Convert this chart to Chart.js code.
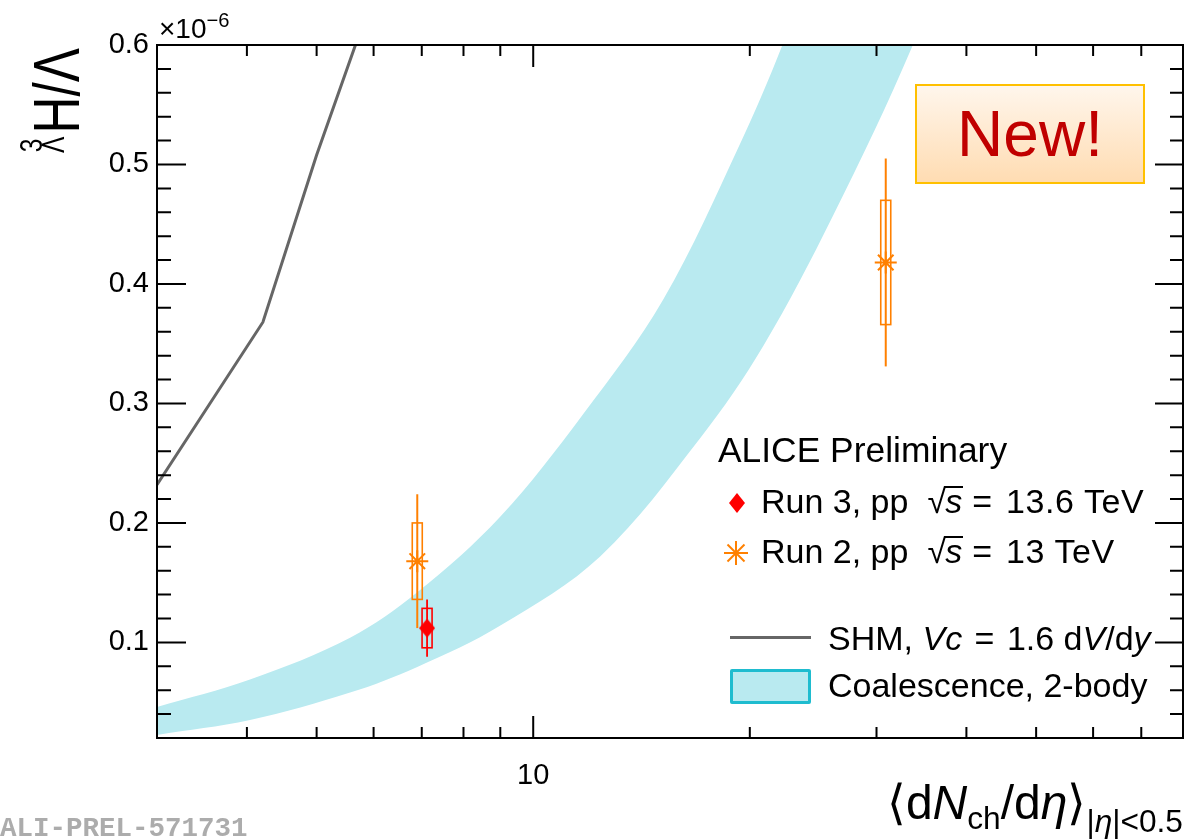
<!DOCTYPE html>
<html>
<head>
<meta charset="utf-8">
<title>Hypertriton to Lambda ratio vs multiplicity</title>
<script src="https://cdn.jsdelivr.net/npm/chart.js@4.4.1/dist/chart.umd.min.js"></script>
<style>
  html, body { margin: 0; padding: 0; background: #fff; }
  #wrap { position: relative; width: 1189px; height: 840px; overflow: hidden;
          font-family: "Liberation Sans", Arial, Helvetica, sans-serif; color: #000; }
  #c { position: absolute; left: 0; top: 0; }
  .abs { position: absolute; white-space: nowrap; line-height: 1; }
  .it { font-style: italic; }
  .lg { font-size: 34px; }
  .sqrt { display: inline-block; margin-left: 19px; margin-right: 9px; }
  .sqrt .arg { display: inline-block; font-style: italic; border-top: 2px solid #000; padding: 0 1px; line-height: 0.82; margin-left: -2px; }
  .eq { display: inline-block; margin-right: 14px; }
  .num { letter-spacing: 0.6px; }
  .sub { position: relative; font-size: 0.66em; top: 0.32em; }
  #newbox { position: absolute; left: 915px; top: 84px; width: 230px; height: 100px; box-sizing: border-box;
            border: 2px solid #ffc000; background: linear-gradient(#fff6ec, #ffdcb2);
            display: flex; align-items: center; justify-content: center;
            color: #c00000; font-size: 64px; line-height: 1; }
  #prel { position: absolute; left: 0; top: 815px; font-family: "Liberation Mono", "DejaVu Sans Mono", monospace;
          font-weight: bold; font-size: 27.5px; color: #acacac; line-height: 1; }
</style>
</head>
<body>
<div id="wrap">
  <canvas id="c" width="1189" height="840"></canvas>

  <!-- exponent of the y axis -->
  <div class="abs" style="left:159px; top:15px; font-size:28px;">×10<span style="position:relative; top:-0.55em; font-size:0.72em;">−6</span></div>

  <!-- y axis title -->
  <div class="abs" id="ytitle" style="left:25px; top:153px; font-size:64px; transform-origin:0 0; transform:rotate(-90deg) scaleX(0.8);">
    <span style="display:inline-block; position:relative; width:0.38em; height:1em; vertical-align:top;">
      <span style="position:absolute; left:0.03em; top:-0.27em; font-size:0.48em;">3</span>
      <span style="position:absolute; left:0; top:0.44em; font-size:0.48em;">Λ</span>
    </span>H/Λ
  </div>

  <!-- x axis title -->
  <div class="abs" style="right:6px; top:779px; font-size:48px;">⟨d<span class="it">N</span><span class="sub">ch</span>/d<span class="it">η</span>⟩<span class="sub" style="top:0.42em;">|<span class="it">η</span>|&lt;0.5</span></div>

  <!-- legend -->
  <div class="abs" style="left:718px; top:433px; font-size:35.4px;">ALICE Preliminary</div>
  <svg class="abs" style="left:728px; top:492px;" width="18" height="22"><polygon points="9,1 17,11 9,21 1,11" fill="#ff0000"/></svg>
  <div class="abs lg" style="left:761px; top:484px;">Run 3, pp<span class="sqrt"><span>√</span><span class="arg">s</span></span><span class="eq">=</span><span class="num">13.6 TeV</span></div>
  <svg class="abs" style="left:724px; top:541px;" width="24" height="24"><g stroke="#ff8000" stroke-width="2"><line x1="0" y1="12" x2="24" y2="12"/><line x1="12" y1="0" x2="12" y2="24"/><line x1="3.5" y1="3.5" x2="20.5" y2="20.5"/><line x1="20.5" y1="3.5" x2="3.5" y2="20.5"/></g></svg>
  <div class="abs lg" style="left:761px; top:534px;">Run 2, pp<span class="sqrt"><span>√</span><span class="arg">s</span></span><span class="eq">=</span><span class="num">13 TeV</span></div>
  <div class="abs" style="left:730px; top:636px; width:81px; height:3px; background:#666666;"></div>
  <div class="abs lg" style="left:828px; top:621px;">SHM, <span class="it">Vc</span> <span style="margin:0 3px;">=</span> 1.6 d<span class="it">V</span>/d<span class="it">y</span></div>
  <div class="abs" style="left:730px; top:669px; width:81px; height:35px; box-sizing:border-box; border:3px solid #1fbccf; border-radius:2px; background:#b9eaf0;"></div>
  <div class="abs lg" style="left:828px; top:668px;">Coalescence, 2-body</div>

  <div id="newbox">New!</div>
  <div id="prel">ALI-PREL-571731</div>
</div>

<script>
// Axis ranges: x is <dNch/deta>, y is the ratio in units of 1e-6
const xRange = [3, 80];
const yRange = [0.02, 0.6];
const xTickValues = [3, 4, 5, 6, 7, 8, 9, 10, 20, 30, 40, 50, 60, 70, 80];
const xTickLabels = { 10: '10' };
const yTickLabels = ['0.1', '0.2', '0.3', '0.4', '0.5', '0.6'];

// Run 3, pp sqrt(s) = 13.6 TeV
const run3X = [7.12];
const run3Y = [0.112];
const run3Stat = [0.024];
const run3Sys = [0.0165];

// Run 2, pp sqrt(s) = 13 TeV
const run2X = [6.9, 30.9];
const run2Y = [0.168, 0.418];
const run2Stat = [0.056, 0.087];
const run2Sys = [0.032, 0.052];

// SHM, Vc = 1.6 dV/dy
const shmX = [3.0, 4.21, 5.0, 6.0];
const shmY = [0.232, 0.368, 0.508, 0.643];

// Coalescence, 2-body: upper and lower edges of the band
const coalUpperX = [3.0, 4.04, 5.565, 6.90, 8.99, 11.73, 15.16, 19.41, 22.2, 25.07];
const coalUpperY = [0.046, 0.069, 0.104, 0.142, 0.205, 0.291, 0.387, 0.518, 0.600, 0.688];
const coalLowerX = [3.0, 4.04, 5.565, 6.90, 8.99, 12.39, 17.07, 20.88, 26.1, 33.7, 38.0];
const coalLowerY = [0.0226, 0.035, 0.058, 0.0795, 0.114, 0.172, 0.271, 0.348, 0.457, 0.600, 0.688];

const ORANGE = '#ff8000';
const RED = '#ff0000';
const BAND = '#b9eaf0';

const toPoints = (xs, ys) => xs.map((x, i) => ({ x, y: ys[i] }));

// Closed outline of the band: along the upper edge, back along the lower edge
const bandOutline = toPoints(coalUpperX, coalUpperY)
  .concat(toPoints(coalLowerX, coalLowerY).reverse());

// Filled diamond marker (slightly taller than wide)
function diamondMarker(w, h, color) {
  const cv = document.createElement('canvas');
  cv.width = w; cv.height = h;
  const g = cv.getContext('2d');
  g.fillStyle = color;
  g.beginPath();
  g.moveTo(w / 2, 0); g.lineTo(w, h / 2); g.lineTo(w / 2, h); g.lineTo(0, h / 2);
  g.closePath(); g.fill();
  return cv;
}

// Statistical error bars (lines) and systematic boxes, drawn under each marker
const errorBars = {
  id: 'errorBars',
  beforeDatasetDraw(chart, args) {
    const ds = chart.data.datasets[args.index];
    if (!ds.errors) return;
    const { ctx } = chart;
    const xs = chart.scales.x, ys = chart.scales.y;
    const a = chart.chartArea;
    ctx.save();
    ctx.beginPath();
    ctx.rect(a.left, a.top, a.width, a.height);
    ctx.clip();
    ctx.strokeStyle = ds.borderColor;
    ds.data.forEach((p, i) => {
      const px = xs.getPixelForValue(p.x);
      const st = ds.errors.stat[i], sy = ds.errors.sys[i];
      ctx.lineWidth = ds.errors.lineWidth;
      ctx.beginPath();
      ctx.moveTo(px, ys.getPixelForValue(p.y + st));
      ctx.lineTo(px, ys.getPixelForValue(p.y - st));
      ctx.stroke();
      const top = ys.getPixelForValue(p.y + sy);
      const bot = ys.getPixelForValue(p.y - sy);
      ctx.lineWidth = 1.6;
      ctx.strokeRect(px - 5, top, 10, bot - top);
    });
    ctx.restore();
  }
};

// Frame with inward ticks on all four sides
const frameTicks = {
  id: 'frameTicks',
  afterDatasetsDraw(chart) {
    const { ctx, chartArea: a } = chart;
    const xs = chart.scales.x, ys = chart.scales.y;
    ctx.save();
    ctx.strokeStyle = '#000';
    ctx.lineWidth = 2;
    ctx.beginPath();
    xs.ticks.forEach(t => {
      const px = xs.getPixelForValue(t.value);
      if (px <= a.left + 1 || px >= a.right - 1) return;
      const major = xTickLabels[t.value] !== undefined;
      ctx.moveTo(px, a.bottom); ctx.lineTo(px, a.bottom - (major ? 22 : 11));
      ctx.moveTo(px, a.top); ctx.lineTo(px, a.top + (major ? 22 : 11));
    });
    ys.ticks.forEach(t => {
      const py = ys.getPixelForValue(t.value);
      if (py <= a.top + 1 || py >= a.bottom - 1) return;
      const major = t.label !== '';
      ctx.moveTo(a.left, py); ctx.lineTo(a.left + (major ? 29 : 14), py);
      ctx.moveTo(a.right, py); ctx.lineTo(a.right - (major ? 28 : 13), py);
    });
    ctx.stroke();
    ctx.strokeRect(a.left, a.top, a.width, a.height);
    ctx.restore();
  }
};

const tickFont = { family: '"Liberation Sans", Arial, Helvetica, sans-serif', size: 29 };

new Chart(document.getElementById('c'), {
  type: 'scatter',
  data: {
    datasets: [
      {
        label: 'Coalescence, 2-body',
        type: 'line',
        data: bandOutline,
        fill: 'shape',
        backgroundColor: BAND,
        borderColor: 'rgba(0,0,0,0)',
        borderWidth: 0,
        pointRadius: 0,
        tension: 0.35,
        order: 4
      },
      {
        label: 'SHM, Vc = 1.6 dV/dy',
        type: 'line',
        data: toPoints(shmX, shmY),
        borderColor: '#666666',
        borderWidth: 3,
        pointRadius: 0,
        fill: false,
        tension: 0,
        order: 3
      },
      {
        label: 'Run 2, pp √s = 13 TeV',
        data: toPoints(run2X, run2Y),
        pointStyle: 'star',
        pointRadius: 11,
        pointBorderWidth: 2,
        borderColor: ORANGE,
        backgroundColor: ORANGE,
        showLine: false,
        errors: { stat: run2Stat, sys: run2Sys, lineWidth: 2 },
        order: 2
      },
      {
        label: 'Run 3, pp √s = 13.6 TeV',
        data: toPoints(run3X, run3Y),
        pointStyle: diamondMarker(16, 19, RED),
        pointRadius: 9,
        borderColor: RED,
        backgroundColor: RED,
        showLine: false,
        errors: { stat: run3Stat, sys: run3Sys, lineWidth: 1.8 },
        order: 1
      }
    ]
  },
  options: {
    responsive: false,
    maintainAspectRatio: false,
    animation: false,
    devicePixelRatio: 1,
    layout: { autoPadding: false, padding: { top: 45, right: 6, left: 0, bottom: 0 } },
    plugins: { legend: { display: false }, tooltip: { enabled: false } },
    scales: {
      x: {
        type: 'logarithmic',
        min: xRange[0],
        max: xRange[1],
        grid: { display: false, drawTicks: false },
        border: { display: false },
        afterBuildTicks: s => { s.ticks = xTickValues.map(v => ({ value: v })); },
        afterFit: s => { s.height = 102; s.paddingLeft = 0; s.paddingRight = 0; },
        ticks: {
          autoSkip: false, maxRotation: 0, minRotation: 0, padding: 21,
          color: '#000', font: tickFont,
          callback: v => (xTickLabels[v] !== undefined ? xTickLabels[v] : '')
        }
      },
      y: {
        type: 'linear',
        min: yRange[0],
        max: yRange[1],
        grid: { display: false, drawTicks: false },
        border: { display: false },
        afterBuildTicks: s => {
          const t = [];
          for (let i = 1; i <= 30; i++) t.push({ value: +(i * 0.02).toFixed(2) });
          s.ticks = t;
        },
        afterFit: s => { s.width = 157; s.paddingTop = 0; s.paddingBottom = 0; },
        ticks: {
          autoSkip: false, padding: 8, color: '#000', font: tickFont,
          callback: v => {
            const lbl = v.toFixed(1);
            return (Math.abs(parseFloat(lbl) - v) < 1e-9 && yTickLabels.includes(lbl)) ? lbl : '';
          }
        }
      }
    }
  },
  plugins: [errorBars, frameTicks]
});
</script>
</body>
</html>
